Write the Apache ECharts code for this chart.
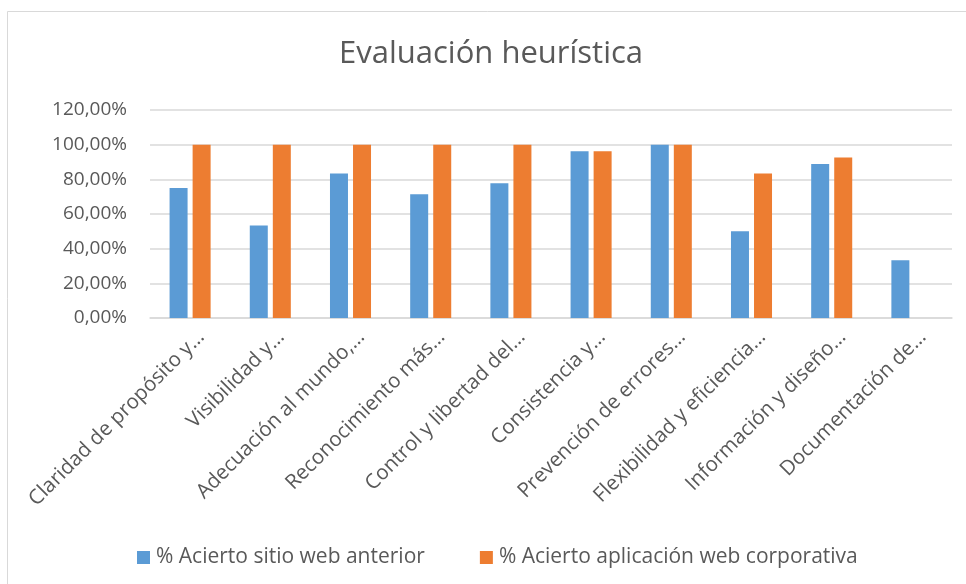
<!DOCTYPE html>
<html>
<head>
<meta charset="utf-8">
<title>Evaluación heurística</title>
<script src="https://cdn.jsdelivr.net/npm/echarts@6/dist/echarts.min.js"></script>
<style>
    html, body { margin: 0; padding: 0; background: #fff; }
    #main { width: 966px; height: 584px; }
</style>
</head>
<body>
<div id="main"></div>
<script>
//categorías (texto recortado como en el original)
var categorias = [
    'Claridad de propósito y…',
    'Visibilidad y…',
    'Adecuación al mundo,…',
    'Reconocimiento más…',
    'Control y libertad del…',
    'Consistencia y…',
    'Prevención de errores…',
    'Flexibilidad y eficiencia…',
    'Información y diseño…',
    'Documentación de…'
];
//% acierto sitio web anterior
var sitioAnterior = [75.00, 53.33, 83.33, 71.43, 77.78, 96.15, 100.00, 50.00, 88.89, 33.33];
//% acierto aplicación web corporativa
var appCorporativa = [100.00, 100.00, 100.00, 100.00, 100.00, 96.15, 100.00, 83.33, 92.59, 0];
var nombresSeries = ['% Acierto sitio web anterior', '% Acierto aplicación web corporativa'];

var fuente = 'Open Sans';
var gris = '#595959';

//formato 0,00%
function fmtPct(v) {
    return v.toFixed(2).replace('.', ',') + '%';
}

var myChart = echarts.init(document.getElementById('main'));

var option = {
    animation: false,
    backgroundColor: '#fff',
    title: {
        text: 'Evaluación heurística',
        left: 334,
        top: 34,
        textStyle: { fontFamily: fuente, fontSize: 31, fontWeight: 'normal', color: gris }
    },
    //borde del gráfico
    graphic: [{
        type: 'rect',
        shape: { x: 7.5, y: 11.5, width: 1000, height: 700 },
        style: { fill: 'none', stroke: '#d9d9d9', lineWidth: 1 },
        silent: true
    }],
    legend: {
        data: nombresSeries,
        left: 137,
        top: 547,
        padding: 0,
        itemWidth: 13,
        itemHeight: 13,
        itemGap: 55,
        icon: 'rect',
        textStyle: { fontFamily: fuente, fontSize: 21, color: gris, padding: [0, 0, 0, 1] }
    },
    grid: { left: 150, right: 14, top: 110, bottom: 266 },
    xAxis: {
        type: 'category',
        data: categorias,
        axisTick: { show: false },
        axisLine: { lineStyle: { color: '#d9d9d9', width: 1.5 } },
        axisLabel: {
            interval: 0,
            rotate: 45,
            margin: 5,
            align: 'right',
            verticalAlign: 'top',
            lineHeight: 31,
            hideOverlap: false,
            fontFamily: fuente,
            fontSize: 20.5,
            color: gris
        }
    },
    yAxis: {
        type: 'value',
        min: 0,
        max: 120,
        interval: 20,
        axisLine: { show: false },
        axisTick: { show: false },
        splitLine: { lineStyle: { color: '#d9d9d9', width: 1.5 } },
        axisLabel: {
            margin: 23,
            fontFamily: fuente,
            fontSize: 19,
            color: gris,
            formatter: fmtPct
        }
    },
    series: [{
        name: nombresSeries[0],
        type: 'bar',
        data: sitioAnterior,
        barWidth: 18,
        barGap: '28%',
        itemStyle: { color: '#5B9BD5' }
    }, {
        name: nombresSeries[1],
        type: 'bar',
        data: appCorporativa,
        barWidth: 18,
        itemStyle: { color: '#ED7D31' }
    }]
};

myChart.setOption(option);
</script>
</body>
</html>
